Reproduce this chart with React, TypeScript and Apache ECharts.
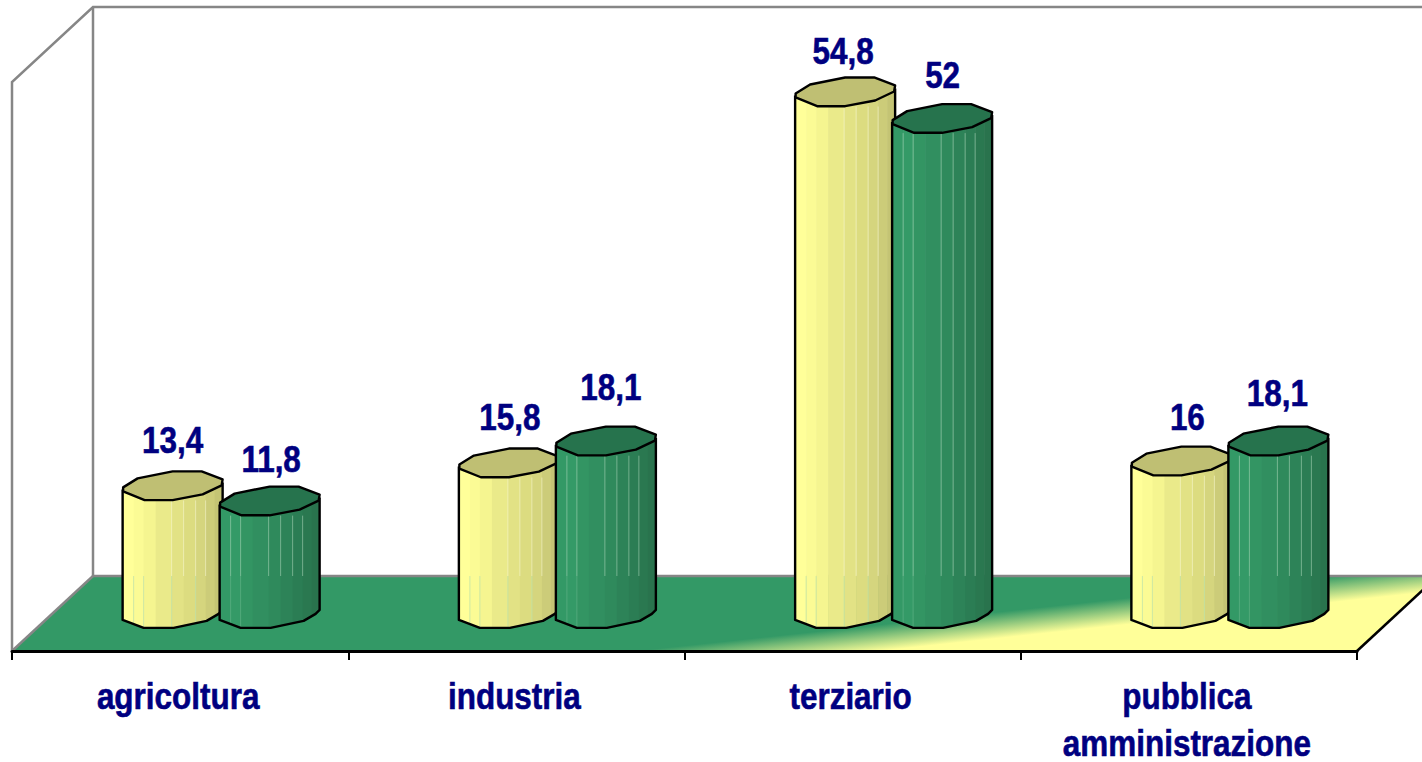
import React, { useEffect, useRef } from "react";
import * as echarts from "echarts";

const categories = ["agricoltura", "industria", "terziario", "pubblica\namministrazione"];
const serieA = [13.4, 15.8, 54.8, 16];
const serieB = [11.8, 18.1, 52, 18.1];
const labelsA = ["13,4", "15,8", "54,8", "16"];
const labelsB = ["11,8", "18,1", "52", "18,1"];
const labelNudgeA = [[0, -46], [1, -46], [-2, -41], [6, -45]];
const labelNudgeB = [[1.5, -43], [5, -55], [0.5, -44], [-1, -49]];

const FONT = "'Liberation Sans', Arial, sans-serif";
const NAVY = "#000080";
const SQUEEZE = 0.85;

const capShape = [
  [-49.5, 5], [-28, 13.7], [0, 13.7], [30, 8], [49, -1], [50, -7],
  [29, -15], [0, -15], [-35, -8], [-49.5, 1],
];
const bottomShape = [
  [-50, 6], [-29, 14], [1, 14], [34, 7], [46, 0], [50, -4],
];
const facetEdges = [-50, -39, -29, -17, -1, 11, 23, 33, 42, 50];

const skinA = {
  facets: ["#FFFF99", "#FBFB95", "#F5F590", "#EAEA8A", "#E2E285", "#DCDC80", "#D5D57E", "#CCCC79", "#C4C474"],
  cap: "#BFBF73",
  lineTop: [4, 5, 6, 7],
  lineFloor: [1, 2, 4, 6],
  line: "rgba(250,250,215,0.55)",
  floorLine: "rgba(190,225,170,0.75)",
};
const skinB = {
  facets: ["#339966", "#349A67", "#339563", "#318F60", "#2F8A5C", "#2D8358", "#2B7D54", "#2A7850", "#29734D"],
  cap: "#26734D",
  lineTop: [1, 2, 4, 5, 6, 7],
  lineFloor: [1, 2],
  line: "rgba(190,225,200,0.5)",
  floorLine: "rgba(120,190,150,0.45)",
};

function yOnBottom(x: number) {
  for (let i = 0; i < bottomShape.length - 1; i++) {
    const [x0, y0] = bottomShape[i];
    const [x1, y1] = bottomShape[i + 1];
    if (x >= x0 && x <= x1) return y0 + ((y1 - y0) * (x - x0)) / (x1 - x0);
  }
  return 0;
}
const topMid = (x: number) => 3 - ((x + 50) * 7) / 100;

function boldText(x: number, y: number, text: string) {
  return {
    type: "text",
    x,
    y,
    scaleX: SQUEEZE,
    style: {
      x: 0,
      y: 0,
      text,
      fill: NAVY,
      stroke: NAVY,
      lineWidth: 0.6,
      font: `bold 37px ${FONT}`,
      align: "center",
      verticalAlign: "middle",
    },
  };
}

function cylinder(cx: number, topY: number, baseY: number, floorY: number, skin: typeof skinA, label: string, nudge: number[]) {
  const children: any[] = [];
  skin.facets.forEach((color, i) => {
    const a = facetEdges[i];
    const b = facetEdges[i + 1] + (i < skin.facets.length - 1 ? 0.6 : 0);
    const mids = bottomShape.map((p) => p[0]).filter((x) => x > a && x < Math.min(b, 50));
    const lower = [a, ...mids, Math.min(b, 50)].map((x) => [cx + x, baseY + yOnBottom(x)]);
    children.push({
      type: "polygon",
      shape: { points: [[cx + a, topY + topMid(a)], [cx + Math.min(b, 50), topY + topMid(Math.min(b, 50))], ...lower.reverse()] },
      style: { fill: color, stroke: "none" },
    });
  });
  skin.lineTop.forEach((i) => {
    const x = facetEdges[i];
    children.push({
      type: "line",
      shape: { x1: cx + x, y1: topY + 14, x2: cx + x, y2: floorY },
      style: { stroke: skin.line, lineWidth: 1 },
    });
  });
  skin.lineFloor.forEach((i) => {
    const x = facetEdges[i];
    children.push({
      type: "line",
      shape: { x1: cx + x, y1: floorY, x2: cx + x, y2: baseY + yOnBottom(x) - 1 },
      style: { stroke: skin.floorLine, lineWidth: 1 },
    });
  });
  const outline = [
    [cx - 50, topY + 3],
    ...bottomShape.map(([x, y]) => [cx + x, baseY + y]),
    [cx + 50, topY - 4],
  ];
  children.push({
    type: "polyline",
    shape: { points: outline },
    style: { stroke: "#000", lineWidth: 2.4, fill: "none", lineJoin: "round" },
  });
  children.push({
    type: "polygon",
    shape: { points: capShape.map(([x, y]) => [cx + x, topY + y]) },
    style: { fill: skin.cap, stroke: "#000", lineWidth: 2.4, lineJoin: "round" },
  });
  children.push(boldText(cx + nudge[0], topY + nudge[1], label));
  return { type: "group", children };
}

export default function App() {
  const ref = useRef<HTMLDivElement>(null);
  useEffect(() => {
    const chart = echarts.init(ref.current!, null, { renderer: "svg" });
    const cylinderSeries = (values: number[], labels: string[], nudges: number[][], skin: typeof skinA, offset: number, z: number) => ({
      type: "custom",
      z,
      silent: true,
      clip: false,
      data: values.map((v, i) => [i, v]),
      encode: { x: 0, y: 1 },
      renderItem: (params: any, api: any) => {
        const i = api.value(0);
        const top = api.coord([i, api.value(1)]);
        const base = api.coord([i, 0]);
        return cylinder(top[0] + offset, top[1], base[1], 576, skin, labels[params.dataIndex], nudges[params.dataIndex]);
      },
    });
    chart.setOption({
      animation: false,
      backgroundColor: "#fff",
      grid: { left: 12, width: 1345, top: 43, height: 608, outerBoundsMode: "none" },
      xAxis: {
        type: "category",
        data: categories,
        boundaryGap: true,
        axisLine: { onZero: false, lineStyle: { color: "#000", width: 3 } },
        axisTick: { show: true, alignWithLabel: false, length: 9, lineStyle: { color: "#000", width: 2 } },
        axisLabel: { show: false },
      },
      yAxis: { type: "value", min: -3.9, max: 60, show: false },
      series: [
        {
          type: "custom",
          z: 0,
          silent: true,
          clip: false,
          data: [[0, 0]],
          renderItem: (params: any) => {
            const g = params.coordSys;
            const L = g.x;
            const B = g.y + g.height;
            const R = L + g.width;
            const dx = 81;
            const dy = 75;
            const backY = B - dy;
            const topY = 7;
            return {
              type: "group",
              children: [
                {
                  type: "polygon",
                  shape: { points: [[L, B], [R, B], [R + dx, backY], [L + dx, backY]] },
                  style: {
                    fill: new echarts.graphic.LinearGradient(
                      1118.6, 599, 1121.4, 625,
                      [
                        { offset: 0, color: "#339966" },
                        { offset: 1, color: "#FFFF99" },
                      ],
                      true
                    ),
                  },
                },
                { type: "polyline", shape: { points: [[L, B], [L, topY + dy], [L + dx, topY], [1422, topY]] }, style: { stroke: "#868686", lineWidth: 2.5, fill: "none" } },
                { type: "line", shape: { x1: L + dx, y1: topY, x2: L + dx, y2: backY }, style: { stroke: "#868686", lineWidth: 2.5 } },
                { type: "line", shape: { x1: L + dx, y1: backY, x2: 1422, y2: backY }, style: { stroke: "#868686", lineWidth: 2.5 } },
                { type: "line", shape: { x1: L, y1: B, x2: L + dx, y2: backY }, style: { stroke: "#868686", lineWidth: 2.5 } },
                { type: "line", shape: { x1: R, y1: B, x2: R + dx, y2: backY }, style: { stroke: "#000", lineWidth: 2.5 } },
              ],
            };
          },
        },
        cylinderSeries(serieA, labelsA, labelNudgeA, skinA, -7.5, 2),
        cylinderSeries(serieB, labelsB, labelNudgeB, skinB, 89.5, 3),
        {
          type: "custom",
          z: 4,
          silent: true,
          clip: false,
          data: categories.map((_, i) => [i, 0]),
          encode: { x: 0, y: 1 },
          renderItem: (params: any, api: any) => {
            const p = api.coord([api.value(0), 0]);
            const g = params.coordSys;
            const B = g.y + g.height;
            return {
              type: "group",
              children: categories[params.dataIndex]
                .split("\n")
                .map((line: string, n: number) => boldText(p[0] - 2, B + 45 + n * 47, line)),
            };
          },
        },
      ],
    });
    return () => chart.dispose();
  }, []);
  return <div ref={ref} style={{ position: "fixed", left: 0, top: 0, width: 1422, height: 762 }} />;
}
